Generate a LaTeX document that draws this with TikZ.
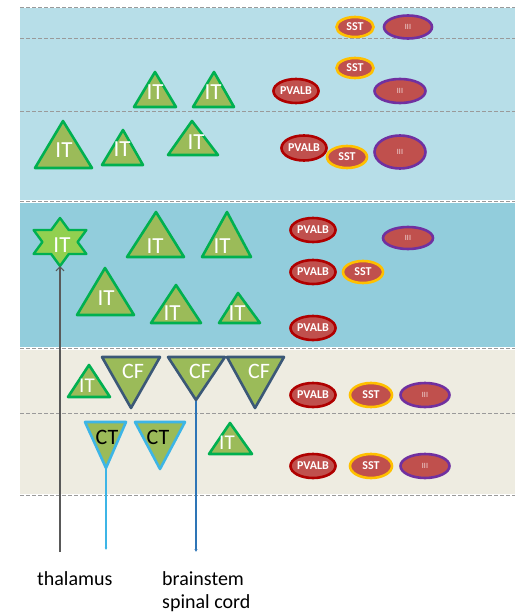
\documentclass[tikz,border=0pt]{standalone}
\usepackage{fontspec}
\setmainfont{Carlito}
\usetikzlibrary{shapes.geometric,arrows.meta}
\definecolor{bandA}{HTML}{B7DEE8}
\definecolor{bandB}{HTML}{92CDDC}
\definecolor{bandC}{HTML}{EEECE1}
\definecolor{olive}{HTML}{9BBB59}
\definecolor{itgreen}{HTML}{00B050}
\definecolor{stargreen}{HTML}{92D050}
\definecolor{cfblue}{HTML}{3B5877}
\definecolor{ctblue}{HTML}{3DB5E6}
\definecolor{ovalred}{HTML}{C0504D}
\definecolor{pvred}{HTML}{B00000}
\definecolor{sstorange}{HTML}{FFC000}
\definecolor{iiipurple}{HTML}{7030A0}
\definecolor{bsblue}{HTML}{2E75B6}
\definecolor{thalgray}{HTML}{595959}
\definecolor{dashgray}{HTML}{9A9A9A}
\definecolor{iiitext}{HTML}{F2DCDB}
\tikzset{
  dashline/.style={dashgray, line width=0.7pt, dash pattern=on 3.5pt off 2.5pt},
  itri/.style={fill=olive, draw=itgreen, line width=2.6pt, line join=round},
  cftri/.style={fill=olive, draw=cfblue, line width=2.6pt, line join=round},
  cttri/.style={fill=olive, draw=ctblue, line width=2.6pt, line join=round},
  startri/.style={fill=stargreen, draw=itgreen, line width=2.4pt, line join=round},
  ittxt/.style={inner sep=0pt, text=white, font=\fontsize{23}{23}\selectfont},
  cftxt/.style={inner sep=0pt, text=white, font=\fontsize{22}{22}\selectfont},
  cttxt/.style={inner sep=0pt, text=black, font=\fontsize{22}{22}\selectfont},
  oval/.style={ellipse, fill=ovalred, inner sep=0pt, line width=2.6pt},
  pv/.style={oval, draw=pvred, text=white, font=\bfseries\fontsize{12}{12}\selectfont},
  sst/.style={oval, draw=sstorange, text=white, font=\bfseries\fontsize{12}{12}\selectfont},
  iii/.style={oval, draw=iiipurple, text=iiitext, font=\fontsize{8}{8}\selectfont},
  lbl/.style={inner sep=0pt, anchor=base west, font=\fontsize{20}{20}\selectfont, text=black}
}
\begin{document}
\begin{tikzpicture}[x=1pt,y=-1pt]
\useasboundingbox (0,0) rectangle (519,615);
% bands
\fill[bandA] (20,8) rectangle (515,200);
\fill[bandB] (20,202.5) rectangle (515,347);
\fill[bandC] (20,349.5) rectangle (515,494);
% dashed lines
\foreach \yy in {7,38,111,201,348,413,495}
  \draw[dashline] (20,\yy) -- (515,\yy);

% ---- band 1 ----
\draw[itri] (134,107) -- (176,107) -- (155,72) -- cycle;
\node[ittxt] (it1) at (155,92) {IT};
\draw[itri] (193,107) -- (234,107) -- (214,72) -- cycle;
\node[ittxt] (it2) at (213,92) {IT};
\draw[itri] (35,168) -- (92,168) -- (63,121) -- cycle;
\node[ittxt] (it3) at (64,150) {IT};
\draw[itri] (102,165) -- (143,165) -- (123,130) -- cycle;
\node[ittxt] (it4) at (122,149) {IT};
\draw[itri] (168,155) -- (218,155) -- (192,121) -- cycle;
\node[ittxt] (it5) at (196,142) {IT};

\node[sst, minimum width=37pt, minimum height=20pt] (sstA) at (355,27) {SST};
\node[iii, minimum width=48pt, minimum height=23pt] (iiiA) at (408,27) {III};
\node[sst, minimum width=37pt, minimum height=20pt] (sstB) at (355,68) {SST};
\node[pv, minimum width=40pt, minimum height=24pt] (pvB) at (296,91) {PVALB};
\node[iii, minimum width=51pt, minimum height=24pt] (iiiB) at (400,91) {III};
\node[pv, minimum width=40pt, minimum height=25pt] (pvC) at (304,148) {PVALB};
\node[sst, minimum width=40pt, minimum height=22pt] (sstC) at (347,157) {SST};
\node[iii, minimum width=51pt, minimum height=33pt] (iiiC) at (400,152) {III};

% ---- band 2 ----
\draw[startri] (60,218) -- (68.8,230) -- (86.4,230) -- (77.6,242) -- (86.4,254) -- (68.8,254)
  -- (60,266) -- (51.2,254) -- (33.6,254) -- (42.4,242) -- (33.6,230) -- (51.2,230) -- cycle;
\node[ittxt] (itstar) at (62,245) {IT};
\coordinate (starbot) at (60,266);
\draw[itri] (127,257) -- (184,257) -- (156,212) -- cycle;
\node[ittxt] (it6) at (155,246) {IT};
\draw[itri] (202,257) -- (251,257) -- (227,212) -- cycle;
\node[ittxt] (it7) at (222,246) {IT};
\draw[itri] (77,315) -- (134,315) -- (105,268) -- cycle;
\node[ittxt] (it8) at (106,298) {IT};
\draw[itri] (151,323) -- (201,323) -- (176,285) -- cycle;
\node[ittxt] (it9) at (172,313) {IT};
\draw[itri] (219,323) -- (260,323) -- (238,293) -- cycle;
\node[ittxt] (it10) at (237,313) {IT};

\node[pv, minimum width=42pt, minimum height=24pt] (pvD) at (313,230) {PVALB};
\node[iii, minimum width=50pt, minimum height=22pt] (iiiD) at (408,238) {III};
\node[pv, minimum width=42pt, minimum height=24pt] (pvE) at (313,272) {PVALB};
\node[sst, minimum width=40pt, minimum height=22pt] (sstE) at (363,272) {SST};
\node[pv, minimum width=42pt, minimum height=24pt] (pvF) at (313,328) {PVALB};

% ---- band 3 ----
\draw[itri] (68,397) -- (110,397) -- (89,365) -- cycle;
\node[ittxt, font=\fontsize{21}{21}\selectfont] (it11) at (87,386) {IT};
\draw[cftri] (102,357) -- (160,357) -- (131,408) -- cycle;
\node[cftxt] (cf1) at (133,371) {CF};
\draw[cftri] (168,357) -- (225,357) -- (196,400) -- cycle;
\node[cftxt] (cf2) at (200,371) {CF};
\draw[cftri] (227,357) -- (284,357) -- (255,408) -- cycle;
\node[cftxt] (cf3) at (259,371) {CF};
\coordinate (cf2tip) at (196,401);
\draw[cttri] (85,422) -- (126,422) -- (106,468) -- cycle;
\node[cttxt] (ct1) at (107,437) {CT};
\draw[cttri] (135,422) -- (185,422) -- (160,469) -- cycle;
\node[cttxt] (ct2) at (158,437) {CT};
\coordinate (ct1tip) at (106,469);
\draw[itri] (209,454) -- (252,454) -- (230,423) -- cycle;
\node[ittxt, font=\fontsize{21}{21}\selectfont] (it12) at (227,443) {IT};

\node[pv, minimum width=42pt, minimum height=24pt] (pvG) at (313,395) {PVALB};
\node[sst, minimum width=42pt, minimum height=24pt] (sstG) at (371,395) {SST};
\node[iii, minimum width=49pt, minimum height=24pt] (iiiG) at (425,395) {III};
\node[pv, minimum width=42pt, minimum height=24pt] (pvH) at (313,466) {PVALB};
\node[sst, minimum width=42pt, minimum height=24pt] (sstH) at (371,466) {SST};
\node[iii, minimum width=49pt, minimum height=24pt] (iiiH) at (425,466) {III};

% ---- projections ----
\coordinate (thalstart) at (60,552);
\coordinate (ctend) at (106,550);
\coordinate (bsend) at (196,552);
\draw[thalgray, line width=1.2pt, -{Straight Barb[length=4pt,width=8pt,line width=1.2pt]}] (thalstart) -- (starbot);
\draw[ctblue, line width=2pt, -{Latex[length=2.5pt,width=3pt]}] (ct1tip) -- (ctend);
\draw[bsblue, line width=2.4pt, -{Latex[length=3pt,width=3.5pt]}] (cf2tip) -- (bsend);

\node[lbl] (thal) at (37,585) {thalamus};
\node[lbl] (bs) at (162,585) {brainstem};
\node[lbl] (sc) at (162,608) {spinal cord};
\end{tikzpicture}
\end{document}
